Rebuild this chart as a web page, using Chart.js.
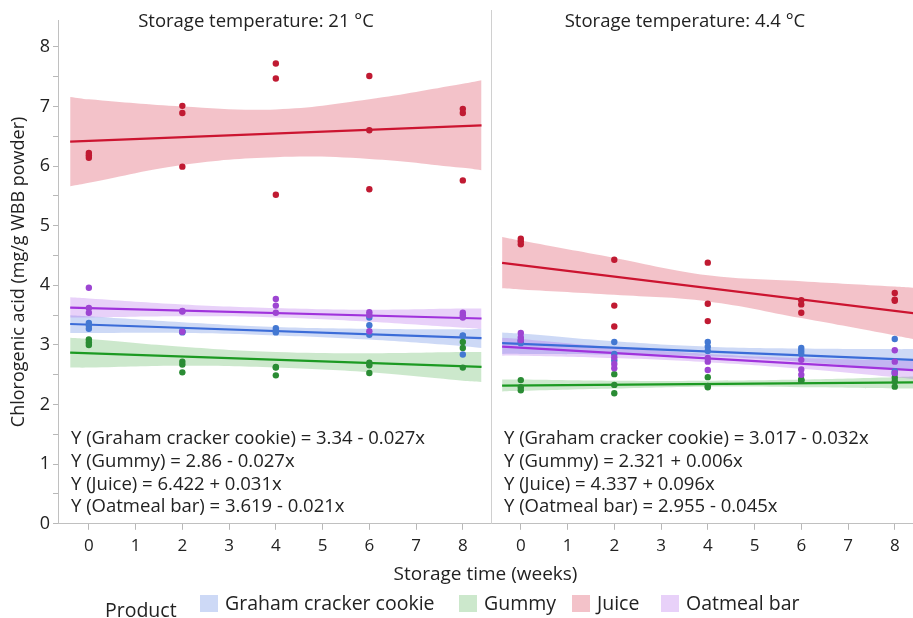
<!DOCTYPE html>
<html><head><meta charset="utf-8">
<script src="https://cdn.jsdelivr.net/npm/chart.js@4.4.1/dist/chart.umd.min.js"></script>
<style>
html,body{margin:0;padding:0;background:#fff;}
#wrap{position:relative;width:913px;height:618px;font-family:"Open Sans","Noto Sans",sans-serif;color:#222;overflow:hidden;}
#c{position:absolute;left:0;top:0;}
.t{position:absolute;white-space:nowrap;}
.sw{position:absolute;width:18px;height:17px;}
</style></head><body>
<div id="wrap">
<canvas id="c" width="913" height="618"></canvas>
</div>
<script>
// ---------- data ----------
const WEEKS = [0, 2, 4, 6, 8];
const X_TICKS = [0, 1, 2, 3, 4, 5, 6, 7, 8];
const Y_TICKS = [0, 1, 2, 3, 4, 5, 6, 7, 8];
const PRODUCTS = ['Graham cracker cookie', 'Gummy', 'Juice', 'Oatmeal bar'];
const PANELS = ['Storage temperature: 21 °C', 'Storage temperature: 4.4 °C'];

// replicate measurements per week (mg/g WBB powder)
const graham21 = [[3.37,3.32,3.27],[3.23,3.22,3.21],[3.28,3.24,3.21],[3.46,3.33,3.17],[3.16,3.15,2.84]];
const gummy21  = [[3.09,3.04,3.00],[2.72,2.67,2.54],[2.63,2.62,2.49],[2.70,2.66,2.53],[3.05,2.95,2.62]];
const juice21  = [[6.14,6.18,6.22],[7.01,6.89,5.99],[7.72,7.47,5.52],[7.51,6.60,5.61],[6.96,6.89,5.76]];
const oat21    = [[3.96,3.62,3.54],[3.57,3.56,3.22],[3.77,3.66,3.54],[3.55,3.50,3.23],[3.54,3.50,3.46]];

const graham4  = [[3.08,3.05,3.03],[3.05,2.85,2.74],[3.05,2.97,2.90],[2.95,2.90,2.85],[3.10,2.56,2.52]];
const gummy4   = [[2.41,2.29,2.24],[2.51,2.33,2.19],[2.46,2.31,2.29],[2.41,2.40,2.42],[2.45,2.39,2.30]];
const juice4   = [[4.78,4.74,4.69],[4.43,3.66,3.31],[4.38,3.69,3.40],[3.75,3.68,3.54],[3.87,3.76,3.74]];
const oat4     = [[3.20,3.13,3.08],[2.79,2.68,2.61],[2.78,2.72,2.58],[2.75,2.59,2.50],[2.91,2.72,2.53]];

// fitted regression lines, read at the ends of the drawn segment
const FIT_X = [-0.4, 8.4];
const grahamFit21 = [3.351, 3.113];
const gummyFit21  = [2.871, 2.633];
const juiceFit21  = [6.410, 6.682];
const oatFit21    = [3.627, 3.443];
const grahamFit4  = [3.030, 2.748];
const gummyFit4   = [2.319, 2.371];
const juiceFit4   = [4.375, 3.531];
const oatFit4     = [2.973, 2.577];

// confidence bands
const BAND_X = [-0.4, 0, 2, 4, 6, 8, 8.4];
const grahamHi21 = [3.50,3.48,3.38,3.30,3.27,3.26,3.27];
const grahamLo21 = [3.20,3.20,3.20,3.16,3.09,2.98,2.95];
const gummyHi21  = [3.12,3.10,2.97,2.88,2.86,2.88,2.88];
const gummyLo21  = [2.62,2.62,2.65,2.62,2.54,2.40,2.38];
const juiceHi21  = [7.16,7.12,7.00,6.95,7.12,7.38,7.44];
const juiceLo21  = [5.66,5.72,6.02,6.15,6.12,5.97,5.93];
const oatHi21    = [3.80,3.78,3.68,3.62,3.59,3.61,3.61];
const oatLo21    = [3.46,3.46,3.48,3.46,3.39,3.29,3.27];

const grahamHi4 = [3.21,3.19,3.06,2.97,2.94,2.93,2.93];
const grahamLo4 = [2.85,2.85,2.84,2.81,2.72,2.59,2.57];
const gummyHi4  = [2.42,2.42,2.40,2.40,2.42,2.46,2.47];
const gummyLo4  = [2.22,2.23,2.27,2.30,2.29,2.27,2.27];
const juiceHi4  = [4.81,4.75,4.46,4.17,4.07,3.98,3.96];
const juiceLo4  = [3.95,3.93,3.84,3.73,3.45,3.16,3.10];
const oatHi4    = [3.12,3.10,2.96,2.85,2.78,2.74,2.73];
const oatLo4    = [2.82,2.82,2.78,2.71,2.60,2.46,2.43];

const EQ21 = ['Y (Graham cracker cookie) = 3.34 - 0.027x','Y (Gummy) = 2.86 - 0.027x','Y (Juice) = 6.422 + 0.031x','Y (Oatmeal bar) = 3.619 - 0.021x'];
const EQ4  = ['Y (Graham cracker cookie) = 3.017 - 0.032x','Y (Gummy) = 2.321 + 0.006x','Y (Juice) = 4.337 + 0.096x','Y (Oatmeal bar) = 2.955 - 0.045x'];

// ---------- styling ----------
const LINE_COL  = ['#3b6cd8','#1c9a22','#cc1430','#a033dc'];
const POINT_COL = ['#4378d2','#2a8c34','#c01a32','#9d45d2'];
const BAND_COL  = ['rgba(60,110,220,0.26)','rgba(40,160,40,0.24)','rgba(215,45,70,0.29)','rgba(165,70,230,0.25)'];
const OFFSET = 9.24;   // horizontal offset of the second panel on the shared axis
const DIVIDER = 8.6;

const panelData = [
  {off:0, pts:[graham21,gummy21,juice21,oat21], fit:[grahamFit21,gummyFit21,juiceFit21,oatFit21],
   hi:[grahamHi21,gummyHi21,juiceHi21,oatHi21], lo:[grahamLo21,gummyLo21,juiceLo21,oatLo21]},
  {off:OFFSET, pts:[graham4,gummy4,juice4,oat4], fit:[grahamFit4,gummyFit4,juiceFit4,oatFit4],
   hi:[grahamHi4,gummyHi4,juiceHi4,oatHi4], lo:[grahamLo4,gummyLo4,juiceLo4,oatLo4]}
];

const datasets = [];
panelData.forEach(p => {
  PRODUCTS.forEach((name, k) => {
    const ord = 3 - k; // later products drawn on top
    datasets.push({label:name+' band', data:BAND_X.map((x,i)=>({x:x+p.off,y:p.hi[k][i]})), showLine:true, tension:0.4,
      borderWidth:0, pointRadius:0, backgroundColor:BAND_COL[k], fill:'+1', order:20+ord});
    datasets.push({label:name+' band lo', data:BAND_X.map((x,i)=>({x:x+p.off,y:p.lo[k][i]})), showLine:true, tension:0.4,
      borderWidth:0, pointRadius:0, backgroundColor:BAND_COL[k], fill:false, order:20+ord});
    datasets.push({label:name+' fit', data:FIT_X.map((x,i)=>({x:x+p.off,y:p.fit[k][i]})), showLine:true,
      borderWidth:2.2, borderColor:LINE_COL[k], pointRadius:0, fill:false, order:10+ord});
    const pts = [];
    WEEKS.forEach((w,i)=>p.pts[k][i].forEach(v=>pts.push({x:w+p.off,y:v})));
    datasets.push({label:name, data:pts, showLine:false, pointRadius:3.2, pointBorderWidth:0,
      backgroundColor:POINT_COL[k], pointBackgroundColor:POINT_COL[k], order:ord});
  });
});

const dividerPlugin = {
  id:'divider',
  beforeDatasetsDraw(chart){
    const {ctx, scales:{x}, chartArea} = chart;
    const px = Math.round(x.getPixelForValue(DIVIDER)) + 0.5;
    ctx.save();
    ctx.strokeStyle = '#d0d0d0'; ctx.lineWidth = 1;
    ctx.beginPath(); ctx.moveTo(px, 10); ctx.lineTo(px, chartArea.bottom); ctx.stroke();
    ctx.restore();
  }
};

const FONT = '"Open Sans","Noto Sans",sans-serif';
new Chart(document.getElementById('c'), {
  type:'scatter',
  data:{datasets},
  plugins:[dividerPlugin],
  options:{
    responsive:false, animation:false, events:[],
    layout:{autoPadding:false, padding:{top:20, bottom:32, left:0, right:0}},
    plugins:{legend:{display:false}, tooltip:{enabled:false}},
    scales:{
      x:{type:'linear', min:-0.66, max:17.63,
        afterBuildTicks(s){ s.ticks = X_TICKS.map(v=>({value:v})).concat(X_TICKS.map(v=>({value:v+OFFSET}))); },
        afterFit(s){ s.paddingRight = 0; s.paddingLeft = 0; },
        ticks:{autoSkip:false, maxRotation:0, padding:6, color:'#222', font:{family:FONT, size:17},
          callback:(v)=> v > DIVIDER ? String(Math.round(v-OFFSET)) : String(Math.round(v))},
        grid:{display:true, drawOnChartArea:false, drawTicks:true, tickLength:6, color:'#b8b8b8'},
        border:{display:true, color:'#c0c0c0'},
        title:{display:true, text:'Storage time (weeks)', color:'#222', font:{family:FONT, size:19}, padding:{top:1, bottom:0}}
      },
      y:{type:'linear', min:0, max:8.45,
        afterBuildTicks(s){ const t=[]; for(let i=0;i<=16;i++) t.push({value:i*0.5}); s.ticks=t; },
        afterFit(s){ s.width = 58; },
        ticks:{autoSkip:false, padding:3, color:'#222', font:{family:FONT, size:18},
          callback:(v)=> Y_TICKS.includes(v) ? String(v) : ''},
        grid:{display:true, drawOnChartArea:false, drawTicks:true, tickLength:5, color:'#b8b8b8'},
        border:{display:true, color:'#c0c0c0'},
        title:{display:true, text:'Chlorogenic acid (mg/g WBB powder)', color:'#222', font:{family:FONT, size:18}, padding:{top:8, bottom:0}}
      }
    }
  }
});

// ---------- HTML text: panel headers, equations, legend ----------
const wrap = document.getElementById('wrap');
function addText(txt, x, yc, size, center){
  const d = document.createElement('div');
  d.className='t'; d.textContent = txt;
  d.style.fontSize = size+'px'; d.style.lineHeight = size+'px';
  d.style.top = (yc - size/2) + 'px';
  if (center){ d.style.left = x+'px'; d.style.transform='translateX(-50%)'; } else d.style.left = x+'px';
  wrap.appendChild(d); return d;
}
addText(PANELS[0], 256, 20, 18.5, true);
addText(PANELS[1], 685, 20, 18.5, true);
const EQ_Y = [437, 460, 483, 505];
EQ21.forEach((s,i)=>addText(s, 71, EQ_Y[i], 18.5, false));
EQ4.forEach((s,i)=>addText(s, 504, EQ_Y[i], 18.5, false));
// legend
addText('Product', 105, 610, 19.5, false);
const SW_X = [200, 459, 572, 661];
PRODUCTS.forEach((name,k)=>{
  const sw = document.createElement('div'); sw.className='sw';
  sw.style.left = SW_X[k]+'px'; sw.style.top='595px'; sw.style.background = BAND_COL[k];
  wrap.appendChild(sw);
  addText(name, SW_X[k]+25, 603, 19.5, false);
});
</script>
</body></html>
